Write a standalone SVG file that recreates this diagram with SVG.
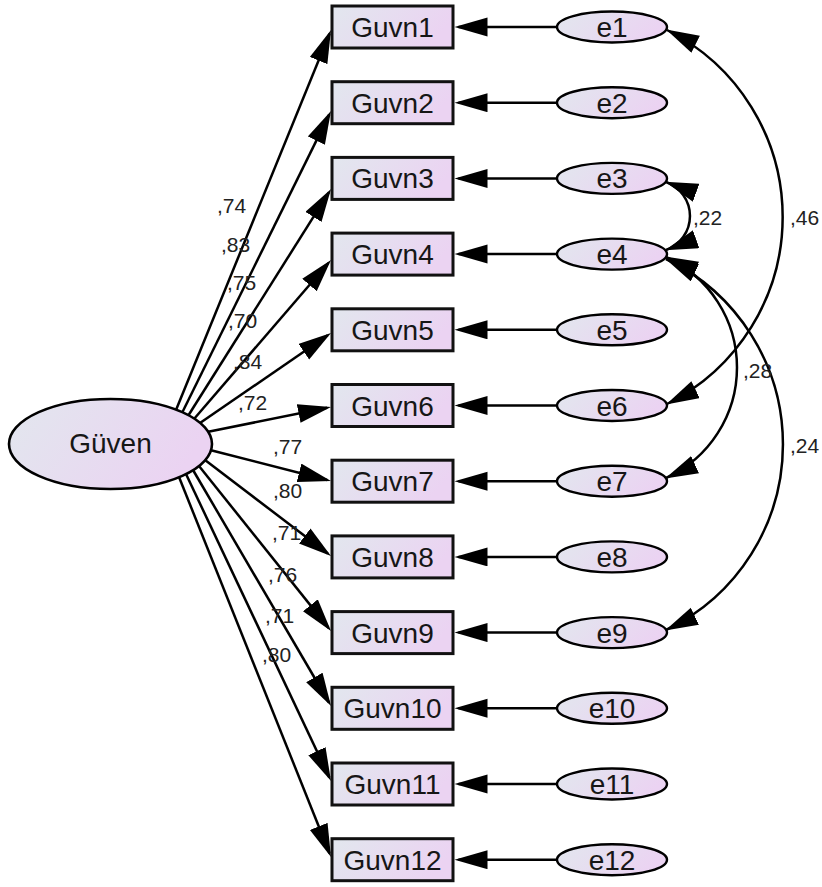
<svg xmlns="http://www.w3.org/2000/svg" width="822" height="887" viewBox="0 0 822 887">
<defs>
<linearGradient id="g" x1="0" y1="0" x2="1" y2="0.3">
<stop offset="0" stop-color="#e2e7ee"/>
<stop offset="1" stop-color="#ebd3f2"/>
</linearGradient>
<marker id="ah" markerUnits="userSpaceOnUse" markerWidth="34" markerHeight="20" refX="29" refY="9.5" orient="auto-start-reverse">
<path d="M0,0 L33,9.5 L0,19 z" fill="#000"/>
</marker>
<marker id="ac" markerUnits="userSpaceOnUse" markerWidth="34" markerHeight="20" refX="32" refY="9.5" orient="auto-start-reverse">
<path d="M0,0 L33,9.5 L0,19 z" fill="#000"/>
</marker>
</defs>
<style>
.box{fill:url(#g);stroke:#111;stroke-width:3}
.lat{fill:url(#g);stroke:#000;stroke-width:2.6}
.err{fill:url(#g);stroke:#000;stroke-width:2.4}
.t{font-family:"Liberation Sans",Arial,sans-serif;font-size:28px;fill:#161616;text-anchor:middle}
.c{font-family:"Liberation Sans",Arial,sans-serif;font-size:21px;fill:#222}
.p{stroke:#000;stroke-width:2.5;fill:none;marker-end:url(#ah)}
.cv{stroke:#000;stroke-width:2.5;fill:none;marker-start:url(#ac);marker-end:url(#ac)}
</style>
<rect width="822" height="887" fill="#fff"/>
<g id="connectors">
<line class="p" x1="176" y1="410" x2="329.5" y2="33.7"/>
<line class="p" x1="182" y1="413" x2="329.2" y2="114.6"/>
<line class="p" x1="188" y1="416" x2="328.9" y2="192.4"/>
<line class="p" x1="194" y1="419" x2="328.4" y2="263"/>
<line class="p" x1="200" y1="423" x2="327.7" y2="335.3"/>
<line class="p" x1="207" y1="432" x2="327.1" y2="407.8"/>
<line class="p" x1="210" y1="450" x2="327.1" y2="480"/>
<line class="p" x1="205" y1="460" x2="327.8" y2="553.6"/>
<line class="p" x1="199" y1="466" x2="328.5" y2="627.9"/>
<line class="p" x1="193" y1="470" x2="329" y2="702.5"/>
<line class="p" x1="186" y1="474" x2="329.3" y2="777.4"/>
<line class="p" x1="179" y1="477" x2="329.5" y2="853.3"/>
<line class="p" x1="557" y1="27" x2="458.5" y2="27"/>
<line class="p" x1="557" y1="102.7" x2="458.5" y2="102.7"/>
<line class="p" x1="557" y1="178.4" x2="458.5" y2="178.4"/>
<line class="p" x1="557" y1="254.1" x2="458.5" y2="254.1"/>
<line class="p" x1="557" y1="329.8" x2="458.5" y2="329.8"/>
<line class="p" x1="557" y1="405.5" x2="458.5" y2="405.5"/>
<line class="p" x1="557" y1="481.2" x2="458.5" y2="481.2"/>
<line class="p" x1="557" y1="556.9" x2="458.5" y2="556.9"/>
<line class="p" x1="557" y1="632.6" x2="458.5" y2="632.6"/>
<line class="p" x1="557" y1="708.3" x2="458.5" y2="708.3"/>
<line class="p" x1="557" y1="784" x2="458.5" y2="784"/>
<line class="p" x1="557" y1="859.7" x2="458.5" y2="859.7"/>
<path class="cv" d="M667,30 A209,209 0 0 1 667,404"/>
<path class="cv" d="M666,182 A36.1,36.1 0 0 1 666,250"/>
<path class="cv" d="M666,257 A121.5,121.5 0 0 1 666,478"/>
<path class="cv" d="M666,259 A205.6,205.6 0 0 1 666,630"/>
<text class="c" x="217" y="213">,74</text>
<text class="c" x="221" y="252">,83</text>
<text class="c" x="227" y="290">,75</text>
<text class="c" x="228" y="328">,70</text>
<text class="c" x="233" y="369">,84</text>
<text class="c" x="238" y="410">,72</text>
<text class="c" x="273" y="454">,77</text>
<text class="c" x="273" y="498">,80</text>
<text class="c" x="272" y="540">,71</text>
<text class="c" x="268" y="582">,76</text>
<text class="c" x="265" y="623">,71</text>
<text class="c" x="262" y="662">,80</text>
<text class="c" x="693" y="225">,22</text>
<text class="c" x="790" y="225">,46</text>
<text class="c" x="743" y="378">,28</text>
<text class="c" x="790" y="453">,24</text>
</g>
<g id="Guven"><ellipse class="lat" cx="110.5" cy="444" rx="101.5" ry="45"/><text class="t" x="110.5" y="453">Güven</text></g>
<g id="Guvn1"><rect class="box" x="332" y="6" width="121" height="42"/><text class="t" x="392.5" y="37">Guvn1</text></g>
<g id="Guvn2"><rect class="box" x="332" y="81.7" width="121" height="42"/><text class="t" x="392.5" y="112.7">Guvn2</text></g>
<g id="Guvn3"><rect class="box" x="332" y="157.4" width="121" height="42"/><text class="t" x="392.5" y="188.4">Guvn3</text></g>
<g id="Guvn4"><rect class="box" x="332" y="233.1" width="121" height="42"/><text class="t" x="392.5" y="264.1">Guvn4</text></g>
<g id="Guvn5"><rect class="box" x="332" y="308.8" width="121" height="42"/><text class="t" x="392.5" y="339.8">Guvn5</text></g>
<g id="Guvn6"><rect class="box" x="332" y="384.5" width="121" height="42"/><text class="t" x="392.5" y="415.5">Guvn6</text></g>
<g id="Guvn7"><rect class="box" x="332" y="460.2" width="121" height="42"/><text class="t" x="392.5" y="491.2">Guvn7</text></g>
<g id="Guvn8"><rect class="box" x="332" y="535.9" width="121" height="42"/><text class="t" x="392.5" y="566.9">Guvn8</text></g>
<g id="Guvn9"><rect class="box" x="332" y="611.6" width="121" height="42"/><text class="t" x="392.5" y="642.6">Guvn9</text></g>
<g id="Guvn10"><rect class="box" x="332" y="687.3" width="121" height="42"/><text class="t" x="392.5" y="718.3">Guvn10</text></g>
<g id="Guvn11"><rect class="box" x="332" y="763" width="121" height="42"/><text class="t" x="392.5" y="794">Guvn11</text></g>
<g id="Guvn12"><rect class="box" x="332" y="838.7" width="121" height="42"/><text class="t" x="392.5" y="869.7">Guvn12</text></g>
<g id="e1"><ellipse class="err" cx="612" cy="27" rx="55" ry="15.5"/><text class="t" x="612" y="37">e1</text></g>
<g id="e2"><ellipse class="err" cx="612" cy="102.7" rx="55" ry="15.5"/><text class="t" x="612" y="112.7">e2</text></g>
<g id="e3"><ellipse class="err" cx="612" cy="178.4" rx="55" ry="15.5"/><text class="t" x="612" y="188.4">e3</text></g>
<g id="e4"><ellipse class="err" cx="612" cy="254.1" rx="55" ry="15.5"/><text class="t" x="612" y="264.1">e4</text></g>
<g id="e5"><ellipse class="err" cx="612" cy="329.8" rx="55" ry="15.5"/><text class="t" x="612" y="339.8">e5</text></g>
<g id="e6"><ellipse class="err" cx="612" cy="405.5" rx="55" ry="15.5"/><text class="t" x="612" y="415.5">e6</text></g>
<g id="e7"><ellipse class="err" cx="612" cy="481.2" rx="55" ry="15.5"/><text class="t" x="612" y="491.2">e7</text></g>
<g id="e8"><ellipse class="err" cx="612" cy="556.9" rx="55" ry="15.5"/><text class="t" x="612" y="566.9">e8</text></g>
<g id="e9"><ellipse class="err" cx="612" cy="632.6" rx="55" ry="15.5"/><text class="t" x="612" y="642.6">e9</text></g>
<g id="e10"><ellipse class="err" cx="612" cy="708.3" rx="55" ry="15.5"/><text class="t" x="612" y="718.3">e10</text></g>
<g id="e11"><ellipse class="err" cx="612" cy="784" rx="55" ry="15.5"/><text class="t" x="612" y="794">e11</text></g>
<g id="e12"><ellipse class="err" cx="612" cy="859.7" rx="55" ry="15.5"/><text class="t" x="612" y="869.7">e12</text></g>
</svg>
